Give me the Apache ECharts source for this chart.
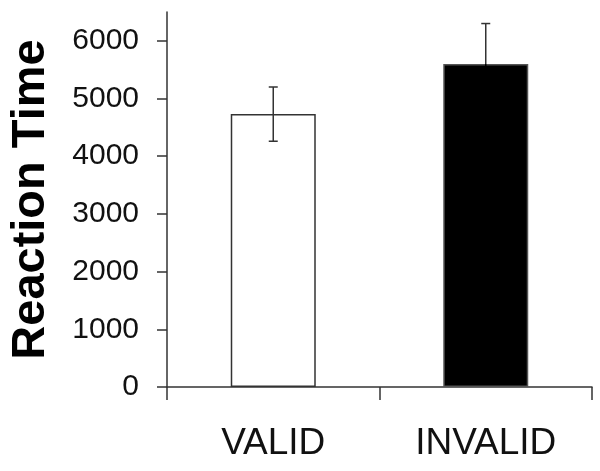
<!DOCTYPE html>
<html>
<head>
<meta charset="utf-8">
<script src="https://cdn.jsdelivr.net/npm/echarts@6.0.0/dist/echarts.min.js"></script>
<style>
    html, body { margin: 0; padding: 0; background: #fff; }
    #chart { width: 600px; height: 471px; }
</style>
</head>
<body>
<div id="chart"></div>
<script>
const categories = ["VALID", "INVALID"];
const meanValues = [4730, 5600];
const errorValues = [470, 700];
const barColors = ["#ffffff", "#000000"];
// lower half of the INVALID error bar sits inside the black bar
const lowerErrorColors = ["#333333", "#000000"];
const yTicks = [0, 1000, 2000, 3000, 4000, 5000, 6000];

let chart = echarts.init(document.getElementById("chart"), null, { renderer: "canvas" });

let options = {
    animation: false,
    grid: {
        left: 163,
        right: 8,
        top: 12,
        bottom: 84,
    },
    xAxis: {
        type: "category",
        data: categories,
        axisLine: { lineStyle: { color: "#333", width: 1.5 } },
        axisTick: { show: true, length: 13, lineStyle: { color: "#333", width: 1.5 } },
        axisLabel: {
            margin: 38,
            fontFamily: "Liberation Sans",
            fontSize: 37,
            color: "#111",
        },
    },
    yAxis: {
        type: "value",
        min: 0,
        max: 6500,
        name: "Reaction Time",
        nameLocation: "middle",
        nameGap: 112,
        nameTextStyle: {
            fontFamily: "Liberation Sans",
            fontWeight: "bold",
            fontSize: 47,
            color: "#000",
        },
        splitLine: { show: false },
        axisLine: { show: true, lineStyle: { color: "#333", width: 1.5 } },
        axisTick: {
            show: true,
            length: 10,
            customValues: yTicks,
            lineStyle: { color: "#333", width: 1.5 },
        },
        axisLabel: {
            margin: 28,
            customValues: yTicks,
            formatter: (value) => value.toString(),
            fontFamily: "Liberation Sans",
            fontSize: 30,
            color: "#111",
        },
    },
    series: [
        {
            type: "bar",
            barWidth: "40%",
            data: meanValues.map((value, index) => {
                return {
                    value: value,
                    itemStyle: {
                        color: barColors[index],
                        borderColor: index == 0 ? "#333" : "#555",
                        borderWidth: 1.5,
                    },
                };
            }),
        },
        {
            type: "custom",
            data: meanValues.map((value, index) => [index, value - errorValues[index], value, value + errorValues[index]]),
            z: 10,
            renderItem: (params, api) => {
                let low = api.coord([api.value(0), api.value(1)]);
                let mid = api.coord([api.value(0), api.value(2)]);
                let high = api.coord([api.value(0), api.value(3)]);
                let half = 4.5;
                let style = { stroke: "#333", lineWidth: 1.5 };
                let lowStyle = { stroke: lowerErrorColors[params.dataIndex], lineWidth: 1.5 };
                return {
                    type: "group",
                    children: [
                        { type: "line", shape: { x1: high[0], y1: high[1], x2: mid[0], y2: mid[1] }, style: style },
                        { type: "line", shape: { x1: mid[0], y1: mid[1], x2: low[0], y2: low[1] }, style: lowStyle },
                        { type: "line", shape: { x1: high[0] - half, y1: high[1], x2: high[0] + half, y2: high[1] }, style: style },
                        { type: "line", shape: { x1: low[0] - half, y1: low[1], x2: low[0] + half, y2: low[1] }, style: lowStyle },
                    ],
                };
            },
        },
    ],
};

chart.setOption(options);
</script>
</body>
</html>
